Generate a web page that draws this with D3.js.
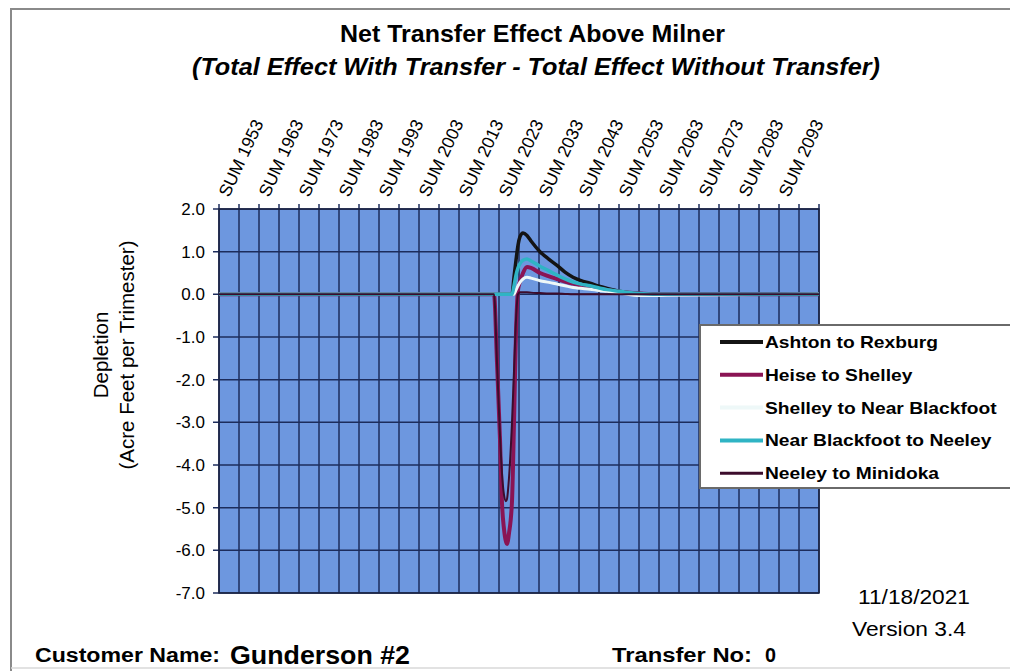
<!DOCTYPE html>
<html>
<head>
<meta charset="utf-8">
<script src="https://cdn.jsdelivr.net/npm/d3@7"></script>
<style>
  body { margin: 0; background: #fff; }
  text { font-family: "Liberation Sans", Arial, sans-serif; }
</style>
</head>
<body>
<div id="chart"></div>
<script>
// ---- data ----
const years = [1953, 2021.75, 2022.5, 2023.25, 2023.75, 2024.25, 2024.75, 2025, 2025.5, 2026.25,
  2026.75, 2027.25, 2027.75, 2028.25, 2029, 2030, 2031, 2033.25, 2035.5, 2037.5,
  2039.5, 2041.5, 2043.5, 2045.75, 2048, 2050, 2053.25, 2058, 2065, 2103];
const ashton = [0, 0, 0, 0, 0, 0, 0, 0, 0, 0,
  0.4, 0.8, 1.15, 1.35, 1.44, 1.38, 1.25, 1.0, 0.82, 0.68,
  0.52, 0.4, 0.32, 0.26, 0.19, 0.14, 0.07, 0.02, 0, 0];
const heise = [0, 0, -1.6, -3.4, -4.9, -5.5, -5.8, -5.85, -5.6, -4.85,
  -3.0, -0.9, 0.1, 0.3, 0.5, 0.64, 0.62, 0.5, 0.42, 0.36,
  0.3, 0.25, 0.2, 0.17, 0.13, 0.1, 0.06, 0.02, 0, 0];
const shelley = [0, 0, 0, 0, 0, 0, 0, 0, 0, 0,
  0, 0.1, 0.2, 0.28, 0.36, 0.4, 0.38, 0.32, 0.28, 0.24,
  0.2, 0.16, 0.14, 0.12, 0.09, 0.07, 0.03, -0.03, -0.02, 0];
const nearBlackfoot = [0, 0, 0, 0, 0, 0, 0, 0, 0, 0,
  0.2, 0.45, 0.62, 0.72, 0.8, 0.83, 0.78, 0.66, 0.55, 0.45,
  0.36, 0.29, 0.24, 0.2, 0.15, 0.11, 0.07, 0.02, 0, 0];
const neeley = [0, 0, -1.6, -3.3, -4.2, -4.7, -4.85, -4.8, -4.3, -3.0,
  -1.8, -0.6, 0, 0.05, 0.05, 0.05, 0.04, 0.03, 0.02, 0.02,
  0.01, 0, 0, 0, 0, 0, 0, 0, 0, 0];
const seriesNames = ["Ashton to Rexburg", "Heise to Shelley", "Shelley to Near Blackfoot",
  "Near Blackfoot to Neeley", "Neeley to Minidoka"];
const seriesValues = [ashton, heise, shelley, nearBlackfoot, neeley];
const labelYears = d3.range(1953, 2094, 10);
const yTicks = d3.range(-7, 3, 1);

const colors = ["#141414", "#8a1454", "#eef8f8", "#2fb4c4", "#3c0c2c"];
const widths = [3.5, 4, 3, 3.5, 2];

// ---- layout ----
const W = 1010, H = 671;
const plotL = 219, plotR = 819, plotT = 209, plotB = 593;

const svg = d3.select("#chart").append("svg")
  .attr("width", W).attr("height", H);

// page frame
svg.append("path")
  .attr("d", `M11,${H} L11,9 L${W},9`)
  .attr("fill", "none").attr("stroke", "#8a8a8a").attr("stroke-width", 2);
svg.append("line")
  .attr("x1", 11).attr("x2", W).attr("y1", 668).attr("y2", 668)
  .attr("stroke", "#d8d8d8").attr("stroke-width", 1.5);

// titles
svg.append("text")
  .attr("x", 340).attr("y", 42)
  .attr("textLength", 385).attr("lengthAdjust", "spacingAndGlyphs")
  .style("font-size", "24px").style("font-weight", "bold")
  .text("Net Transfer Effect Above Milner");
svg.append("text")
  .attr("x", 192).attr("y", 75)
  .attr("textLength", 688).attr("lengthAdjust", "spacingAndGlyphs")
  .style("font-size", "23px").style("font-weight", "bold").style("font-style", "italic")
  .text("(Total Effect With Transfer - Total Effect Without Transfer)");

const x = d3.scaleLinear().domain([1953, 2103]).range([plotL, plotR]);
const y = d3.scaleLinear().domain([-7, 2]).range([plotB, plotT]);

// plot area
svg.append("rect")
  .attr("x", plotL).attr("y", plotT)
  .attr("width", plotR - plotL).attr("height", plotB - plotT)
  .attr("fill", "#6d97df");

// vertical gridlines every 5 years
svg.append("g").selectAll("line")
  .data(d3.range(1953, 2104, 5))
  .join("line")
  .attr("x1", d => x(d)).attr("x2", d => x(d))
  .attr("y1", plotT - 5).attr("y2", plotB)
  .attr("stroke", "#1c2c5c").attr("stroke-width", 1.5);

// horizontal gridlines
svg.append("g").selectAll("line")
  .data(yTicks)
  .join("line")
  .attr("x1", plotL - 6).attr("x2", plotR)
  .attr("y1", d => y(d)).attr("y2", d => y(d))
  .attr("stroke", "#1c2c5c").attr("stroke-width", 1.5);

svg.append("rect")
  .attr("x", plotL).attr("y", plotT)
  .attr("width", plotR - plotL).attr("height", plotB - plotT)
  .attr("fill", "none").attr("stroke", "#1a2240").attr("stroke-width", 1.5);

// y tick labels
svg.append("g").selectAll("text")
  .data(yTicks)
  .join("text")
  .attr("x", 205).attr("y", d => y(d) + 6)
  .attr("text-anchor", "end")
  .style("font-size", "17px")
  .text(d => d.toFixed(1));

// y axis title
const yTitle = svg.append("text")
  .attr("transform", "translate(108,355) rotate(-90)")
  .attr("text-anchor", "middle")
  .style("font-size", "20.5px");
yTitle.append("tspan").attr("x", 0).attr("dy", 0).text("Depletion");
yTitle.append("tspan").attr("x", 0).attr("dy", 26).text("(Acre Feet per Trimester)");

// rotated x labels along top
svg.append("g").selectAll("text")
  .data(labelYears)
  .join("text")
  .attr("transform", d => `translate(${x(d) + 10},198) rotate(-65)`)
  .style("font-size", "17.5px")
  .text(d => `SUM ${d}`);

// series lines
const line = d3.line()
  .x((d, i) => x(years[i]))
  .y(d => y(d))
  .curve(d3.curveMonotoneX);

svg.append("g").selectAll("path")
  .data(seriesValues)
  .join("path")
  .attr("d", line)
  .attr("fill", "none")
  .attr("stroke", (d, i) => colors[i])
  .attr("stroke-width", (d, i) => widths[i])
  .attr("stroke-linejoin", "round");

// legend
svg.append("rect")
  .attr("x", 700).attr("y", 325)
  .attr("width", 330).attr("height", 163)
  .attr("fill", "#fff").attr("stroke", "#6a6a6a").attr("stroke-width", 2);

const legend = svg.append("g").selectAll("g")
  .data(seriesNames)
  .join("g")
  .attr("transform", (d, i) => `translate(720, ${342 + i * 32.8})`);
legend.append("line")
  .attr("x1", 0).attr("x2", 43)
  .attr("stroke", (d, i) => colors[i])
  .attr("stroke-width", (d, i) => i == 4 ? 3 : 4);
legend.append("text")
  .attr("x", 45).attr("y", 6)
  .style("font-size", "17px").style("font-weight", "bold")
  .text(d => d)
  // widen like the scanned legend
  .attr("textLength", function() { return this.getComputedTextLength() * 1.13; })
  .attr("lengthAdjust", "spacingAndGlyphs");

// footer texts
const footer = [
  { t: "11/18/2021", x: 858, y: 604, len: 112, size: 21, bold: false },
  { t: "Version 3.4", x: 852, y: 636, len: 114, size: 21, bold: false },
  { t: "Customer Name:", x: 35, y: 662, len: 185, size: 20, bold: true },
  { t: "Gunderson #2", x: 230, y: 664, len: 180, size: 25, bold: true },
  { t: "Transfer No:", x: 612, y: 662, len: 140, size: 20, bold: true },
  { t: "0", x: 765, y: 662, len: 11, size: 20, bold: true }
];
svg.append("g").selectAll("text")
  .data(footer)
  .join("text")
  .attr("x", d => d.x).attr("y", d => d.y)
  .attr("textLength", d => d.len).attr("lengthAdjust", "spacingAndGlyphs")
  .style("font-size", d => d.size + "px")
  .style("font-weight", d => d.bold ? "bold" : "normal")
  .text(d => d.t);
</script>
</body>
</html>
